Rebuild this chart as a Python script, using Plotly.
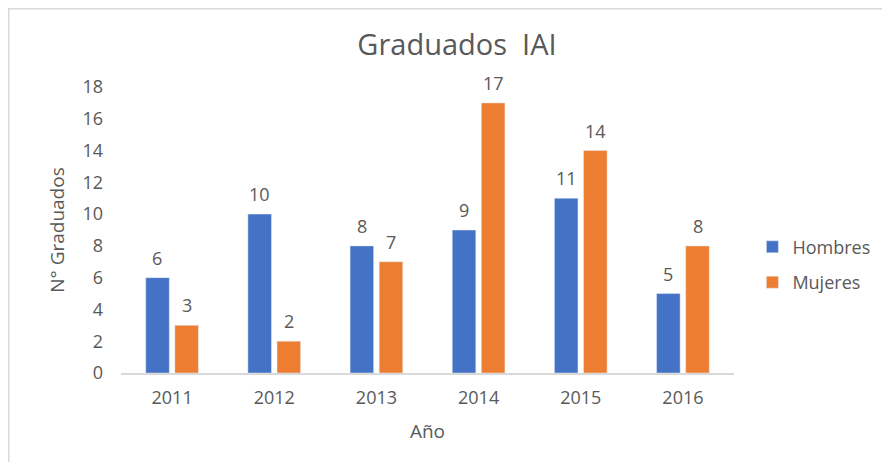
import plotly.graph_objects as go

years = ["2011", "2012", "2013", "2014", "2015", "2016"]
hombres = [6, 10, 8, 9, 11, 5]
mujeres = [3, 2, 7, 17, 14, 8]
y_ticks = [0, 2, 4, 6, 8, 10, 12, 14, 16, 18]

FONT = "Open Sans"
GREY = "#595959"
BLUE = "#4472C4"
ORANGE = "#ED7D31"

fig = go.Figure()
fig.add_trace(go.Bar(x=years, y=hombres, name="Hombres", marker_color=BLUE, legendgroup="h"))
fig.add_trace(go.Bar(x=years, y=mujeres, name="Mujeres", marker_color=ORANGE, legendgroup="m"))

annotations = []
for series, shift in ((hombres, -14.6), (mujeres, 14.6)):
    for i, v in enumerate(series):
        annotations.append(dict(
            x=i, y=v, xref="x", yref="y", text=str(v), showarrow=False,
            xshift=shift, yshift=20, yanchor="middle",
            font=dict(family=FONT, size=18, color=GREY),
        ))

fig.update_layout(
    width=890, height=462,
    margin=dict(l=113, r=164, t=79, b=97),
    paper_bgcolor="white", plot_bgcolor="white",
    barmode="group", bargap=0.43, bargroupgap=0.19,
    font=dict(family=FONT, color=GREY, size=18),
    title=dict(text="Graduados  IAI", x=449 / 890, xref="container", xanchor="center",
               y=1 - 37 / 462, yref="container", yanchor="middle",
               font=dict(family=FONT, size=29, color=GREY)),
    showlegend=True,
    legend=dict(x=1.03, xanchor="left", y=0.379, yanchor="middle",
                font=dict(family=FONT, size=18, color=GREY),
                traceorder="grouped", tracegroupgap=9, itemwidth=30,
                bgcolor="rgba(0,0,0,0)"),
    xaxis=dict(
        type="category",
        showgrid=False, showline=True, linecolor="#d9d9d9", linewidth=1.5,
        ticks="", ticklabelstandoff=8, tickfont=dict(family=FONT, size=18, color=GREY),
        title=dict(text="Año", font=dict(family=FONT, size=19, color=GREY), standoff=16),
    ),
    yaxis=dict(
        range=[0, 18], tickvals=y_ticks, showgrid=False, showline=False,
        zeroline=False, ticks="", ticklabelstandoff=17,
        tickfont=dict(family=FONT, size=18, color=GREY),
        title=dict(text="N° Graduados", font=dict(family=FONT, size=19, color=GREY), standoff=12),
    ),
    annotations=annotations,
    shapes=[dict(type="rect", xref="paper", yref="paper",
                 x0=(8.5 - 121) / 613, x1=1.6, y0=-1.0, y1=(373 - 8.5) / 286,
                 line=dict(color="#d9d9d9", width=2), fillcolor="rgba(0,0,0,0)",
                 layer="below")],
)

fig.write_html("out.html")
